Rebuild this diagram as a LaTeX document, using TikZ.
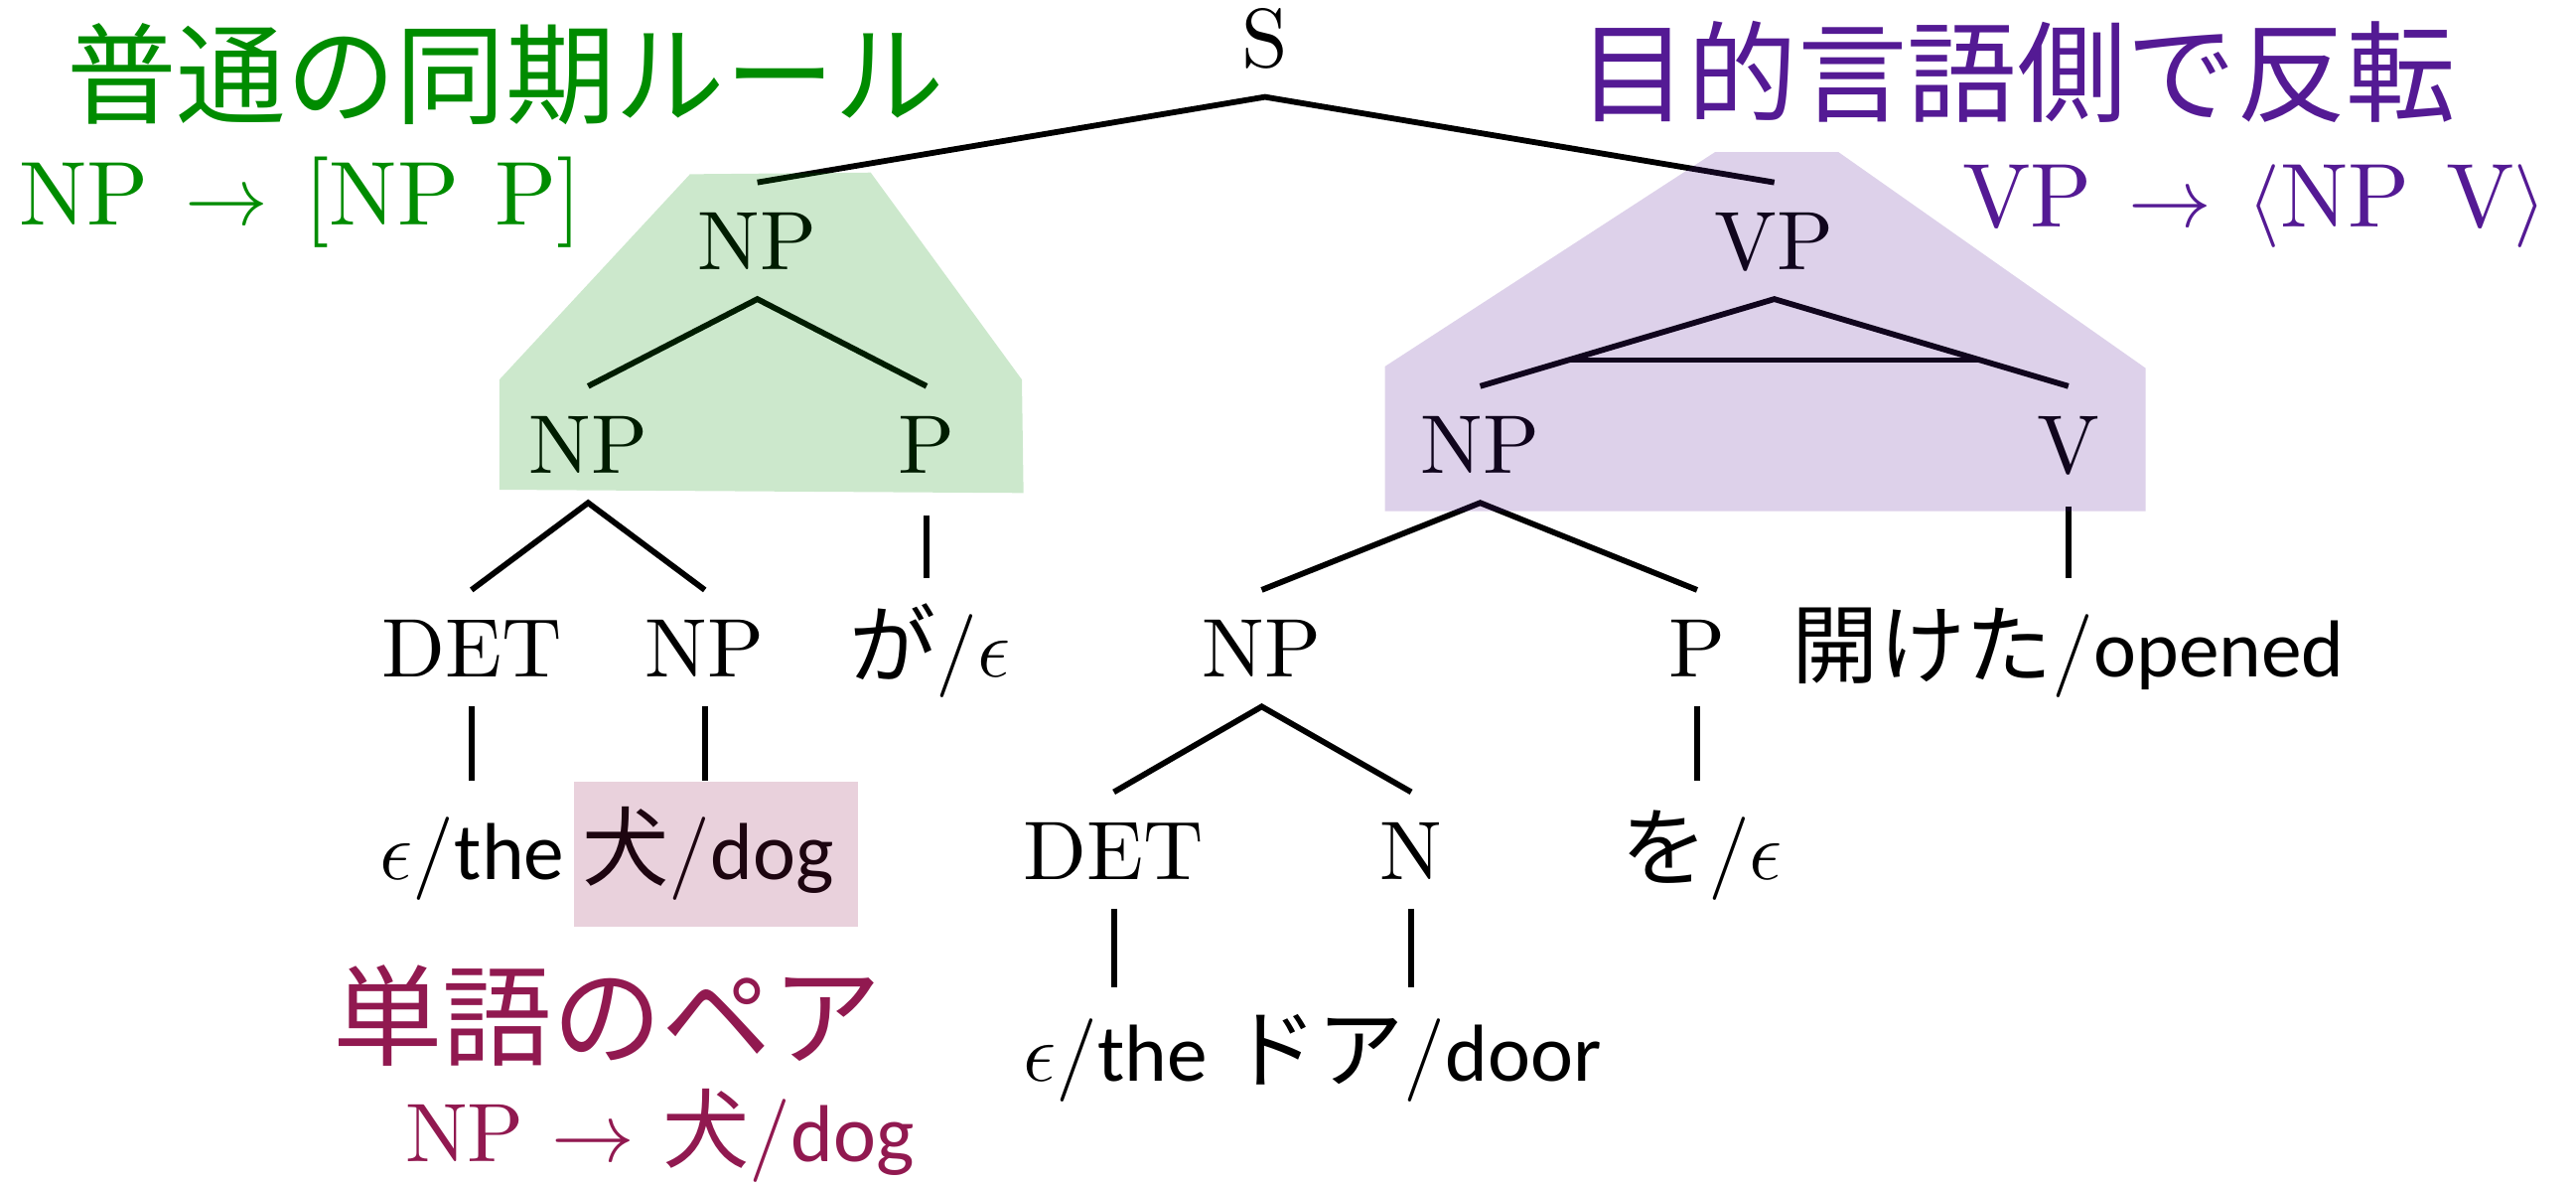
\documentclass[tikz,border=0pt]{standalone}
\usepackage{fontspec}
\usetikzlibrary{calc}
\newfontfamily\cjkfont{Noto Sans CJK JP}
\newfontfamily\gillfont{Carlito}
\newfontfamily\lmten{lmroman10-regular.otf}
\definecolor{rgreen}{RGB}{0,140,0}
\definecolor{rpurple}{RGB}{84,26,148}
\definecolor{rmaroon}{RGB}{145,25,80}
\newcommand\jw[1]{{\fontsize{15pt}{18pt}\selectfont\cjkfont #1}}
\newcommand\ew[1]{{\fontsize{14pt}{17pt}\selectfont\gillfont #1}}
\newcommand\gp{\hspace{2.2mm}}
\begin{document}
\begin{tikzpicture}[x=0.1mm,y=-0.1mm,
  lab/.style={font=\fontsize{14.4pt}{17pt}\selectfont\lmten, inner sep=0pt, outer sep=0pt,
              text height=5.3mm, text depth=1.8mm, anchor=base},
  branch/.style={line width=1.0pt},
  unary/.style={line width=1.05pt, shorten >=0.7mm},
  title/.style={font=\fontsize{19pt}{22pt}\selectfont\cjkfont, inner sep=0pt, anchor=west},
  rule/.style={font=\fontsize{15.7pt}{19pt}\selectfont\lmten, inner sep=0pt, anchor=base west},
]
\useasboundingbox (0,0) rectangle (1568,720);

% tree nodes
\node[lab] (S) at (770,41) {S};
\node[lab] (NPa) at (461,164) {NP};
\node[lab] (VP) at (1080,164) {VP};
\node[lab] (NPb) at (358,288) {NP};
\node[lab] (Pa) at (564,288) {P};
\node[lab] (NPc) at (901,288) {NP};
\node[lab] (V) at (1259,288) {V};
\node[lab] (DETa) at (287,412) {DET};
\node[lab] (NPd) at (429,412) {NP};
\node[lab] (ga) at (566,412) {\jw{が}/$\epsilon$};
\node[lab] (NPe) at (768,412) {NP};
\node[lab] (Pb) at (1033,412) {P};
\node[lab] (hiraku) at (1259,412) {\jw{開けた}/\ew{opened}};
\node[lab] (wthe) at (287.5,535) {$\epsilon$/\ew{the}};
\node[lab] (winu) at (431,535) {\jw{犬}/\ew{dog}};
\node[lab] (DETb) at (678,535) {DET};
\node[lab] (N) at (859,535) {N};
\node[lab] (wo) at (1036,535) {\jw{を}/$\epsilon$};
\node[lab] (wthe2) at (679,658) {$\epsilon$/\ew{the}};
\node[lab] (door) at (862,658) {\jw{ドア}/\ew{door}};

% branches
\draw[branch] (NPa.north) -- (S.south) -- (VP.north);
\draw[branch] (NPb.north) -- (NPa.south) -- (Pa.north);
\draw[branch] (NPc.north) -- (VP.south) -- (V.north);
\draw[branch] ($(VP.south)!0.7!(NPc.north)$) -- ($(VP.south)!0.7!(V.north)$);
\draw[branch] (DETa.north) -- (NPb.south) -- (NPd.north);
\draw[branch] (NPe.north) -- (NPc.south) -- (Pb.north);
\draw[branch] (DETb.north) -- (NPe.south) -- (N.north);

% unary branches
\draw[unary, shorten <=0.8mm] (Pa.south) -- (Pa.south |- ga.north);
\draw[unary, shorten <=0.2mm] (V.south) -- (V.south |- hiraku.north);
\draw[unary] (DETa.south) -- (DETa.south |- wthe.north);
\draw[unary] (NPd.south) -- (NPd.south |- winu.north);
\draw[unary] (Pb.south) -- (Pb.south |- wo.north);
\draw[unary, shorten >=0.4mm] (DETb.south) -- (DETb.south |- wthe2.north);
\draw[unary, shorten >=0.4mm] (N.south) -- (N.south |- door.north);

% highlight regions
\fill[rgreen, fill opacity=0.2] (420,106) -- (530,105) -- (622,231) -- (623,300) -- (304,298) -- (304,231) -- cycle;
\fill[rpurple, fill opacity=0.2] (1044,92.5) -- (1119,92.5) -- (1306,224) -- (1306,311) -- (843,311) -- (843,223) -- cycle;
\fill[rmaroon, fill opacity=0.2] (349.5,476) rectangle (522,564);

% titles and rules
\node[title, text=rgreen] (t1) at (40,45) {普通の同期ルール};
\node[rule, text=rgreen] (r1) at (11,137) {NP\gp$\rightarrow$\gp[NP\gp P]};
\node[title, text=rpurple] (t2) at (960,44) {目的言語側で反転};
\node[rule, text=rpurple] (r2) at (1194,138) {VP\gp$\rightarrow$\gp$\langle$NP\gp V$\rangle$};
\node[title, text=rmaroon] (t3) at (202,618) {単語のペア};
\node[rule, font=\fontsize{14.4pt}{17pt}\selectfont\lmten, text=rmaroon] (r3) at (246,707) {NP $\rightarrow$ \jw{犬}/\ew{dog}};
\end{tikzpicture}
\end{document}
